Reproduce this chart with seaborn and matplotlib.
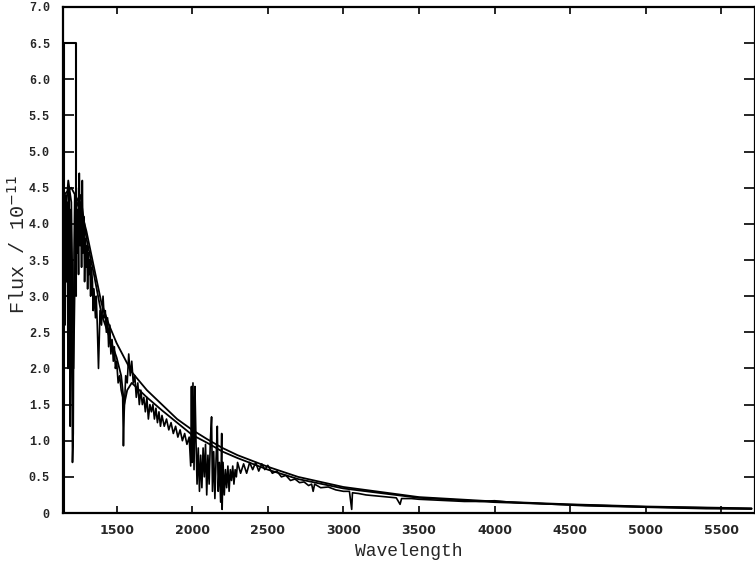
import matplotlib
matplotlib.use("Agg")
import matplotlib.pyplot as plt
import seaborn as sns
import pandas as pd

# Observed ultraviolet + optical spectrum (wavelength in Angstrom, flux in 1e-11 units)
obs_wave = [1152, 1158, 1163, 1168, 1173, 1178, 1183, 1188, 1193, 1198, 1203, 1208, 1213,
            1218, 1223, 1228, 1233, 1238, 1243, 1248, 1253, 1258, 1263, 1268, 1273, 1278,
            1283, 1288, 1293, 1298, 1303, 1308, 1313, 1318, 1323, 1328, 1333, 1340, 1345,
            1350, 1360, 1365, 1372, 1380, 1390, 1400, 1410, 1418, 1425, 1432, 1440, 1447,
            1455, 1462, 1470, 1478, 1485, 1492, 1500, 1510, 1520, 1530, 1540, 1545, 1550,
            1560, 1570, 1580, 1590, 1600, 1610, 1620, 1630, 1640, 1650, 1660, 1670, 1680,
            1690, 1700, 1710, 1720, 1730, 1740, 1750, 1760, 1770, 1780, 1790, 1800, 1815,
            1830, 1845, 1860, 1875, 1890, 1905, 1920, 1935, 1950, 1965, 1980, 1990, 1995,
            2000, 2005, 2012, 2018, 2025, 2032, 2040, 2048, 2056, 2064, 2072, 2080, 2088,
            2096, 2104, 2112, 2120, 2128, 2134, 2142, 2150, 2158, 2166, 2172, 2180, 2188,
            2195, 2198, 2204, 2212, 2220, 2228, 2236, 2244, 2252, 2260, 2268, 2276, 2284,
            2292, 2300, 2320, 2340, 2360, 2380, 2400, 2420, 2440, 2460, 2480, 2500, 2530,
            2560, 2590, 2620, 2650, 2680, 2710, 2740, 2770, 2790, 2800, 2810, 2850, 2900,
            2950, 3000, 3040, 3055, 3060, 3100, 3150, 3200, 3250, 3300, 3350, 3375, 3385,
            3450, 3500, 3600, 3700, 3800, 3900, 4000, 4100, 4200, 4300, 4400, 4500, 4600,
            4800, 5000, 5200, 5400, 5700]
obs_flux = [4.8, 2.6, 4.4, 3.2, 4.3, 2.0, 4.5, 3.3, 1.2, 4.2, 3.0, 0.7, 1.1,
            3.6, 4.4, 3.9, 4.5, 3.6, 4.2, 3.3, 4.7, 3.7, 4.3, 3.4, 4.6, 3.6,
            4.1, 3.2, 3.8, 3.4, 3.7, 3.1, 3.6, 3.3, 3.5, 3.0, 3.4, 3.2, 2.8,
            3.1, 2.7, 3.0, 2.6, 2.0, 2.8, 2.6, 3.0, 2.7, 2.8, 2.5, 2.7, 2.3,
            2.6, 2.2, 2.4, 2.1, 2.3, 2.0, 2.1, 1.8, 1.9, 1.7, 1.6, 0.93, 1.4,
            1.9, 1.8, 2.2, 1.9, 2.1, 1.8, 1.9, 1.6, 1.8, 1.5, 1.7, 1.5, 1.6,
            1.4, 1.6, 1.3, 1.5, 1.4, 1.5, 1.3, 1.45, 1.25, 1.4, 1.2, 1.35, 1.2,
            1.3, 1.15, 1.25, 1.1, 1.2, 1.05, 1.15, 1.0, 1.1, 0.95, 1.05, 0.65, 1.75,
            0.7, 1.8, 0.6, 1.75, 1.0, 0.4, 0.9, 0.3, 0.8, 0.35, 0.9, 0.5, 0.95,
            0.25, 0.8, 0.4, 1.0, 1.33, 0.3, 0.85, 0.2, 0.75, 1.2, 0.3, 0.7, 0.15,
            1.1, 0.05, 0.7, 0.25, 0.6, 0.35, 0.65, 0.3, 0.6, 0.45, 0.65, 0.4, 0.6,
            0.5, 0.7, 0.55, 0.68, 0.55, 0.7, 0.6, 0.7, 0.58, 0.68, 0.6, 0.66, 0.55,
            0.58, 0.5, 0.52, 0.45, 0.47, 0.42, 0.43, 0.38, 0.4, 0.3, 0.4, 0.35, 0.36,
            0.32, 0.3, 0.3, 0.05, 0.28, 0.27, 0.25, 0.24, 0.23, 0.22, 0.21, 0.12, 0.2,
            0.2, 0.19, 0.18, 0.17, 0.16, 0.16, 0.17, 0.15, 0.14, 0.13, 0.12, 0.11, 0.1,
            0.09, 0.08, 0.07, 0.06, 0.055]

# Saturated geocoronal Lyman-alpha segment
sat_wave = [1150, 1150, 1228, 1228]
sat_flux = [0.0, 6.5, 6.5, 3.0]

# Model continuum without interstellar absorption
model_a_wave = [1150, 1200, 1250, 1300, 1350, 1400, 1450, 1500, 1550, 1600, 1700, 1800,
                1900, 2000, 2100, 2200, 2300, 2400, 2500, 2700, 3000, 3500, 4000, 4500,
                5000, 5700]
model_a_flux = [4.4, 4.5, 4.3, 3.9, 3.4, 2.9, 2.6, 2.35, 2.15, 1.95, 1.7, 1.5,
                1.3, 1.15, 1.02, 0.9, 0.8, 0.72, 0.64, 0.5, 0.36, 0.22, 0.16, 0.12,
                0.09, 0.065]

# Model with line absorption
model_b_wave = [1150, 1180, 1200, 1215, 1230, 1260, 1300, 1350, 1400, 1450, 1500, 1530,
                1550, 1570, 1600, 1700, 1800, 1900, 2000, 2100, 2200, 2300, 2400, 2500,
                2700, 3000, 3500, 4000, 4500, 5000, 5700]
model_b_flux = [3.8, 4.6, 4.3, 2.0, 4.2, 4.4, 3.8, 3.3, 2.75, 2.45, 2.15, 1.9,
                1.5, 1.7, 1.8, 1.6, 1.42, 1.25, 1.08, 0.97, 0.85, 0.76, 0.68, 0.6,
                0.47, 0.34, 0.21, 0.15, 0.115, 0.085, 0.06]

x_ticks = [1500, 2000, 2500, 3000, 3500, 4000, 4500, 5000, 5500]
y_ticks = [0, 0.5, 1.0, 1.5, 2.0, 2.5, 3.0, 3.5, 4.0, 4.5, 5.0, 5.5, 6.0, 6.5, 7.0]
y_tick_labels = ["0", "0.5", "1.0", "1.5", "2.0", "2.5", "3.0", "3.5", "4.0", "4.5",
                 "5.0", "5.5", "6.0", "6.5", "7.0"]

sns.set_style("ticks")
plt.rcParams["font.family"] = ["Liberation Mono", "DejaVu Sans"]

fig = plt.figure(figsize=(7.55, 5.64), dpi=100)
ax = fig.add_axes([0.0834, 0.0904, 0.916, 0.8972])

series = [
    (obs_wave, obs_flux, 1.2),
    (sat_wave, sat_flux, 1.5),
    (model_a_wave, model_a_flux, 1.3),
    (model_b_wave, model_b_flux, 1.3),
]
for w, f, lw in series:
    df = pd.DataFrame({"wave": w, "flux": f})
    sns.lineplot(data=df, x="wave", y="flux", ax=ax, sort=False, estimator=None,
                 color="black", linewidth=lw)

ax.set_xlim(1145, 5720)
ax.set_ylim(0, 7.0)
ax.set_xticks(x_ticks)
ax.set_xticklabels([str(t) for t in x_ticks], fontweight="bold", fontsize=9,
                   family="DejaVu Sans")
ax.set_yticks(y_ticks)
ax.set_yticklabels(y_tick_labels, fontweight="bold", fontsize=8.5)
ax.tick_params(axis="both", direction="in", top=True, right=True, width=1.2, color="black")
ax.tick_params(axis="y", which="major", length=8, pad=9.5)
ax.tick_params(axis="x", which="major", length=5, pad=8)

for s in ax.spines.values():
    s.set_linewidth(1.6)
    s.set_color("black")

ax.set_xlabel("Wavelength", fontsize=13, labelpad=4)
ax.set_ylabel(r"Flux / 10$^{-11}$", fontsize=14.5)
ax.yaxis.set_label_coords(-0.05, 0.53)

fig.savefig("out.png", dpi=100)
